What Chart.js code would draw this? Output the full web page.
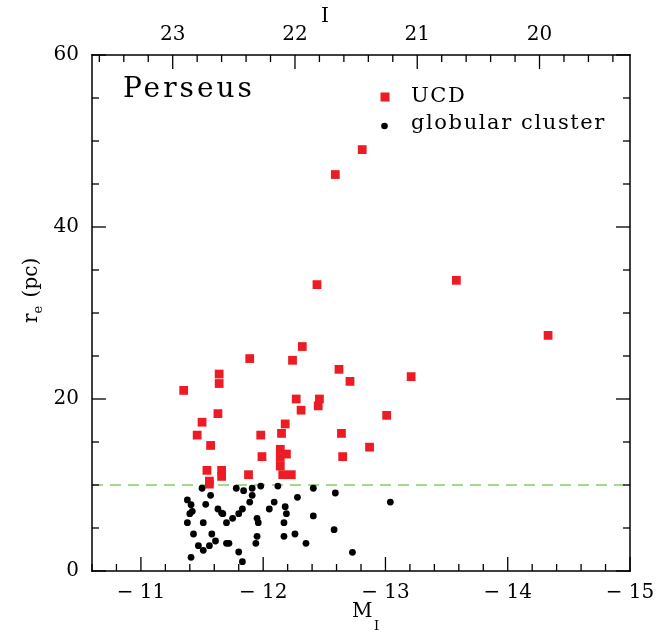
<!DOCTYPE html>
<html>
<head>
<meta charset="utf-8">
<script src="https://cdn.jsdelivr.net/npm/chart.js@4.4.0/dist/chart.umd.min.js"></script>
<style>
  body { margin: 0; background: #fff; }
  canvas { display: block; }
</style>
</head>
<body>
<canvas id="sizeChart" width="667" height="637"></canvas>
<script>
// UCDs: absolute I magnitude and effective radius (pc)
var ucdMag = [-12.81, -12.59, -12.44, -13.58, -14.33, -12.32, -11.89, -12.24, -11.64, -11.64,
              -11.35, -12.27, -12.46, -12.45, -12.31, -11.63, -12.18, -11.50, -12.15, -11.46,
              -11.98, -11.57, -12.14, -12.14, -12.19, -12.14, -12.16, -12.23, -11.99, -11.54,
              -11.66, -11.66, -11.56, -11.56, -11.88, -12.62, -12.71, -13.21, -13.01, -12.64,
              -12.87, -12.65];
var ucdRe  = [49.0, 46.1, 33.3, 33.8, 27.4, 26.1, 24.7, 24.5, 22.9, 21.8,
              21.0, 20.0, 20.0, 19.2, 18.7, 18.3, 17.1, 17.3, 16.0, 15.8,
              15.8, 14.6, 14.15, 13.2, 13.6, 12.2, 11.2, 11.2, 13.3, 11.7,
              11.7, 11.0, 10.45, 10.1, 11.2, 23.45, 22.05, 22.6, 18.1, 16.0,
              14.4, 13.3];
// globular clusters
var gcMag = [-11.50, -11.57, -11.38, -11.41, -11.53, -11.42, -11.40, -11.38, -11.51, -11.43,
             -11.58, -11.47, -11.51, -11.56, -11.61, -11.41, -11.63, -11.67, -11.66, -11.70,
             -11.75, -11.80, -11.83, -11.78, -11.84, -11.91, -11.91, -11.89, -11.98, -12.12,
             -12.09, -12.05, -11.95, -11.96, -11.95, -11.94, -11.70, -11.72, -11.80, -11.83,
             -12.18, -12.19, -12.17, -12.17, -12.41, -12.28, -12.59, -13.04, -12.41, -12.58,
             -12.26, -12.35, -12.73];
var gcRe  = [9.62, 8.80, 8.26, 7.71, 7.75, 6.94, 6.67, 5.62, 5.62, 4.30,
             4.30, 2.94, 2.40, 2.94, 3.49, 1.59, 7.21, 6.67, 6.74, 5.62,
             6.13, 6.67, 7.21, 9.62, 9.34, 9.62, 8.80, 8.02, 9.88, 9.88,
             8.02, 7.21, 6.13, 5.62, 4.03, 3.22, 3.22, 3.22, 2.21, 1.08,
             7.48, 6.67, 5.62, 4.03, 9.62, 8.57, 9.07, 8.02, 6.40, 4.80,
             4.30, 3.22, 2.17];
var cutRe = 10;          // dashed separation line
var distMod = 34.26;     // I = M_I + distMod
var xLimits = [-10.6, -15];
var xTicks = [-11, -12, -13, -14, -15];
var topTicks = [23, 22, 21, 20];
var yTicks = [0, 20, 40, 60];

var RED = '#ed1c24';
var FONT = '"DejaVu Serif", serif';

function zip(xs, ys) { return xs.map(function (x, i) { return { x: x, y: ys[i] }; }); }
function minus(v) { return v < 0 ? '\u2212 ' + Math.abs(v) : '' + v; }
function fixTicks(vals) { return function (s) { s.ticks = vals.map(function (v) { return { value: v }; }); }; }

// tick positions between lo and hi every step (lo < hi)
function steps(lo, hi, step) {
  var out = [];
  var n = Math.round((hi - lo) / step);
  for (var i = 0; i <= n; i++) out.push(Math.round((lo + i * step) * 1000) / 1000);
  return out;
}
function isWhole(v, every) { return Math.abs(v / every - Math.round(v / every)) < 1e-6; }

var decor = {
  id: 'decor',
  afterDraw: function (chart) {
    var ctx = chart.ctx, a = chart.chartArea;
    var xs = chart.scales.x, xt = chart.scales.x2, ys = chart.scales.y;
    var w = 1.3;
    ctx.save();
    ctx.setLineDash([]);
    ctx.fillStyle = '#000';
    // frame
    ctx.fillRect(a.left - 0.75, a.top - 0.75, a.right - a.left + 1.5, 1.5);
    ctx.fillRect(a.left - 0.75, a.bottom - 0.75, a.right - a.left + 1.5, 1.5);
    ctx.fillRect(a.left - 0.75, a.top - 0.75, 1.5, a.bottom - a.top + 1.5);
    ctx.fillRect(a.right - 0.75, a.top - 0.75, 1.5, a.bottom - a.top + 1.5);
    // ticks
    steps(-15, -10.6, 0.2).forEach(function (v) {
      var len = isWhole(v, 1) ? 14 : 7;
      var p = xs.getPixelForValue(v);
      ctx.fillRect(p - w / 2, a.bottom - len, w, len);
    });
    steps(19.4, 23.6, 0.2).forEach(function (v) {
      var len = isWhole(v, 1) ? 14 : 7;
      var p = xt.getPixelForValue(v);
      ctx.fillRect(p - w / 2, a.top, w, len);
    });
    steps(0, 60, 5).forEach(function (v) {
      var len = isWhole(v, 20) ? 14 : 7;
      var p = ys.getPixelForValue(v);
      ctx.fillRect(a.left, p - w / 2, len, w);
      ctx.fillRect(a.right - len, p - w / 2, len, w);
    });

    ctx.textBaseline = 'alphabetic';
    ctx.textAlign = 'left';
    // panel name
    ctx.font = '28px ' + FONT;
    ctx.letterSpacing = '3px';
    ctx.fillText('Perseus', 123, 97);
    // legend
    ctx.font = '21px ' + FONT;
    ctx.letterSpacing = '1.6px';
    ctx.fillText('UCD', 411, 102);
    ctx.fillText('globular cluster', 411, 129);
    ctx.letterSpacing = '0px';
    ctx.fillStyle = RED;
    ctx.fillRect(380.5, 92.5, 9, 9);
    ctx.fillStyle = '#000';
    ctx.beginPath(); ctx.arc(384.5, 126, 3.3, 0, 2 * Math.PI); ctx.fill();

    // axis titles
    ctx.font = '20px ' + FONT;
    ctx.fillText('M', 352, 617);
    ctx.font = '13px ' + FONT;
    ctx.fillText('I', 374, 630);
    ctx.font = '20px ' + FONT;
    ctx.fillText('I', 321, 22);

    ctx.translate(37, 323);
    ctx.rotate(-Math.PI / 2);
    ctx.font = '20px ' + FONT;
    ctx.fillText('r', 0, 0);
    var rw = ctx.measureText('r').width;
    ctx.font = '13px ' + FONT;
    ctx.fillText('e', rw, 5);
    var ew = ctx.measureText('e').width;
    ctx.font = '20px ' + FONT;
    ctx.fillText(' (pc)', rw + ew + 2, 0);
    ctx.restore();
  }
};

var tickFont = { family: FONT, size: 20 };

new Chart(document.getElementById('sizeChart').getContext('2d'), {
  type: 'scatter',
  data: {
    datasets: [
      { label: 'UCD', data: zip(ucdMag, ucdRe), backgroundColor: RED, pointStyle: 'rect',
        pointRadius: 6.2, pointBorderWidth: 0, pointHoverRadius: 6.2, order: 1 },
      { label: 'globular cluster', data: zip(gcMag, gcRe), backgroundColor: '#000',
        pointRadius: 3.4, pointBorderWidth: 0, pointHoverRadius: 3.4, order: 2 },
      { type: 'line', label: 'cut', data: [{ x: xLimits[0], y: cutRe }, { x: xLimits[1], y: cutRe }],
        borderColor: '#8cc96c', borderWidth: 1.5, borderDash: [11, 7], pointRadius: 0, order: 3 }
    ]
  },
  options: {
    responsive: false,
    animation: false,
    devicePixelRatio: 1,
    layout: { padding: { left: 0, right: 37, top: 0, bottom: 0 } },
    plugins: { legend: { display: false }, tooltip: { enabled: false } },
    scales: {
      x: {
        type: 'linear', position: 'bottom', reverse: true,
        min: xLimits[1], max: xLimits[0],
        grid: { display: false, drawTicks: false, tickLength: 0 },
        border: { display: false },
        afterBuildTicks: fixTicks(xTicks),
        afterFit: function (s) { s.height = 66; },
        ticks: { font: tickFont, color: '#000', padding: 10, maxRotation: 0, autoSkip: false,
                 callback: function (v) { return minus(v); } }
      },
      x2: {
        type: 'linear', position: 'top', reverse: true,
        min: xLimits[1] + distMod, max: xLimits[0] + distMod,
        grid: { display: false, drawTicks: false, tickLength: 0 },
        border: { display: false },
        afterBuildTicks: fixTicks(topTicks),
        afterFit: function (s) { s.height = 55; },
        ticks: { font: tickFont, color: '#000', padding: 8, maxRotation: 0, autoSkip: false }
      },
      y: {
        type: 'linear', position: 'left', min: 0, max: 60,
        grid: { display: false, drawTicks: false, tickLength: 0 },
        border: { display: false },
        afterBuildTicks: fixTicks(yTicks),
        afterFit: function (s) { s.width = 92; },
        ticks: { font: tickFont, color: '#000', padding: 13 }
      }
    }
  },
  plugins: [decor]
});
</script>
</body>
</html>
